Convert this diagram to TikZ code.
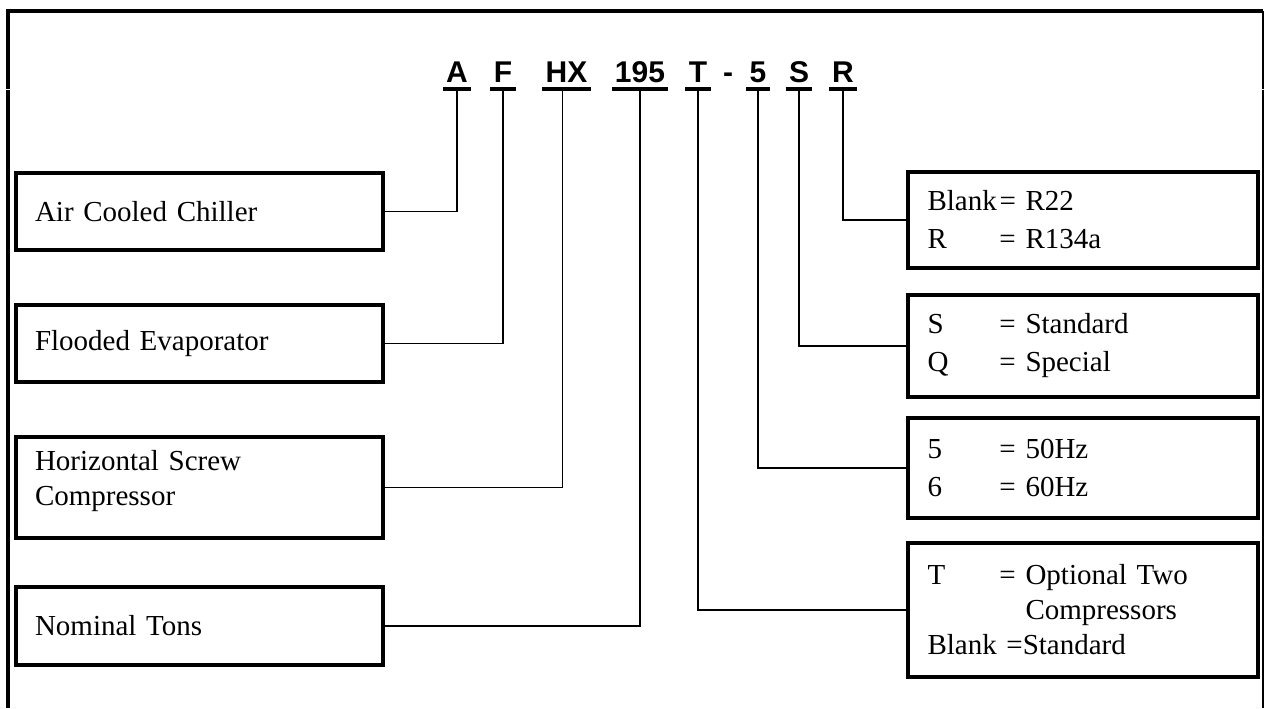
\documentclass[tikz,border=0pt]{standalone}
\usepackage{fontspec}
\setmainfont{Liberation Serif}
\newfontfamily\codefont{Liberation Sans}
\begin{document}
\begin{tikzpicture}
    [x=0.5pt, y=-0.5pt,
     frame/.style={line width=2pt},
     code/.style={font=\codefont\bfseries\fontsize{15pt}{18pt}\selectfont, anchor=base, inner xsep=1.5pt, inner ysep=3.25pt, text depth=0pt},
     uline/.style={line width=2pt},
     link/.style={line width=0.7pt},
     lbox/.style={draw, line width=2pt, text width=164.5pt, inner xsep=9.5pt, align=left, font=\fontsize{14.5pt}{17.5pt}\selectfont},
     rbox/.style={draw, line width=2pt, text width=155.5pt, inner xsep=9.75pt, align=left, font=\fontsize{14.5pt}{19pt}\selectfont}]
    \def\opt#1{\makebox[36pt][l]{#1}}
    \useasboundingbox (0,0) rectangle (1264,708);
    \draw[frame] (8,708) -- (8,89.5);
    \draw[frame] (8,88.5) -- (8,10.5) -- (1263,10.5);
    \draw[line width=0.75pt] (1263,10.5) -- (1263,88.5) (1263,89.5) -- (1263,708);

    \node[code] (cA) at (457,82) {A};
    \node[code] (cF) at (503,82) {F};
    \node[code] (cHX) at (566.5,82) {HX};
    \node[code] (c195) at (640,82) {195};
    \node[code] (cT) at (698,82) {T};
    \node[code] (cdash) at (728,82) {-};
    \node[code] (c5) at (758,82) {5};
    \node[code] (cS) at (799,82) {S};
    \node[code] (cR) at (843,82) {R};
    \draw[uline] (cA.south west) -- (cA.south east) (cF.south west) -- (cF.south east)
    (cHX.south west) -- (cHX.south east) (c195.south west) -- (c195.south east)
    (cT.south west) -- (cT.south east) (c5.south west) -- (c5.south east)
    (cS.south west) -- (cS.south east) (cR.south west) -- (cR.south east);

    \node[lbox, minimum height=38.5pt] (air) at (199.5,211.5) {Air Cooled Chiller};
    \node[lbox, minimum height=38.5pt] (flood) at (199.5,343.5) {Flooded Evaporator};
    \node[lbox, minimum height=50.5pt, text depth=27pt] (screw) at (199.5,487.5) {Horizontal Screw\\Compressor};
    \node[lbox, minimum height=39pt] (tons) at (199.5,626) {Nominal Tons};

    \node[rbox, minimum height=48pt] (refr) at (1083,220) {\opt{Blank}= R22\\\opt{R}= R134a};
    \node[rbox, minimum height=51pt] (build) at (1083,346) {\opt{S}= Standard\\\opt{Q}= Special};
    \node[rbox, minimum height=50pt] (freq) at (1083,468) {\opt{5}= 50Hz\\\opt{6}= 60Hz};
    \node[rbox, minimum height=67pt, font=\fontsize{14.5pt}{17.5pt}\selectfont] (comp) at (1083,610)
    {\opt{T}= Optional Two\\\opt{}\phantom{= }Compressors\\Blank =Standard};

    \draw[link] (cA.south) |- (air.east);
    \draw[link] (cF.south) |- (flood.east);
    \draw[link] ([xshift=-2pt]cHX.south) |- (screw.east);
    \draw[link] (c195.south) |- (tons.east);
    \draw[link] (cT.south) |- (comp.west);
    \draw[link] (c5.south) |- (freq.west);
    \draw[link] (cS.south) |- (build.west);
    \draw[link] (cR.south) |- (refr.west);
\end{tikzpicture}
\end{document}
